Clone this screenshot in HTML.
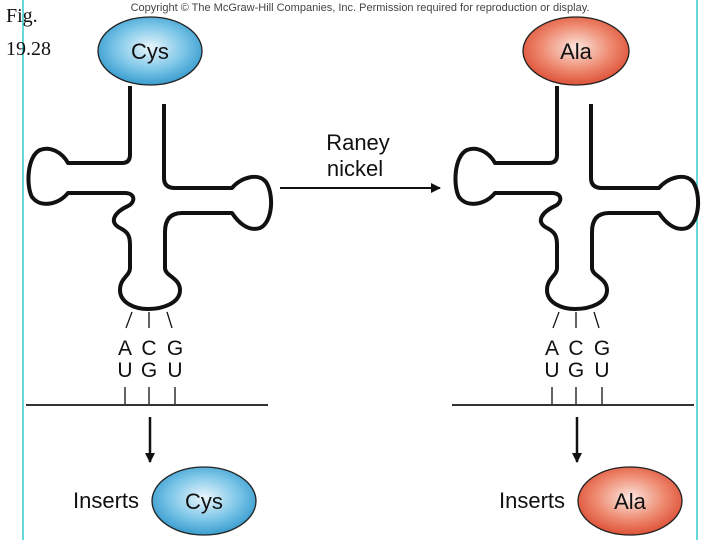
<!DOCTYPE html>
<html><head><style>body{margin:0;background:#fff}svg{display:block}</style></head><body>
<svg width="720" height="540" viewBox="0 0 720 540" xmlns="http://www.w3.org/2000/svg">
<defs>
<radialGradient id="b" cx="0.5" cy="0.45" r="0.6"><stop offset="0" stop-color="#eaf6fc"/><stop offset="0.55" stop-color="#7cc6e8"/><stop offset="1" stop-color="#2b93c8"/></radialGradient>
<radialGradient id="r" cx="0.5" cy="0.45" r="0.6"><stop offset="0" stop-color="#fbe6df"/><stop offset="0.55" stop-color="#ee8a70"/><stop offset="1" stop-color="#d9452b"/></radialGradient>
<marker id="ah" markerWidth="10" markerHeight="10" refX="9" refY="5" orient="auto" markerUnits="userSpaceOnUse"><path d="M0,0 L10,5 L0,10 Z" fill="#111"/></marker>
<g id="t">
<path d="M130,86 V155 Q130,163 122,163 H68 C62,152 50,146 40,150 C27,156 26,186 32,197 C40,208 58,205 68,193 H125 C135,193 136,202 128,206 C115,212 108,222 120,228 C128,232 130,236 130,245 V268 C130,276 120,278 120,290 C120,303 135,309 148,309 C163,309 180,303 180,290 C180,278 165,276 165,268 V232 Q165,213 182,213 H232 C238,222 248,232 260,228 C273,222 274,194 266,182 C258,172 240,178 232,188 H175 Q164,188 164,178 V104" fill="none" stroke="#111" stroke-width="4" stroke-linejoin="round"/>
<g stroke="#111" stroke-width="1.3" fill="none"><path d="M132,312 L126,328"/><path d="M149,312 V328"/><path d="M167,312 L172,328"/>
<path d="M125,387 V405"/><path d="M149,387 V405"/><path d="M175,387 V405"/></g>
<g font-family="Liberation Sans, sans-serif" font-size="21" fill="#111" text-anchor="middle"><text x="125" y="355">A</text><text x="149" y="355">C</text><text x="175" y="355">G</text><text x="125" y="377">U</text><text x="149" y="377">G</text><text x="175" y="377">U</text></g>
<line x1="150" y1="417" x2="150" y2="462" stroke="#111" stroke-width="2.5" marker-end="url(#ah)"/>
</g>
</defs>
<line x1="23" y1="0" x2="23" y2="540" stroke="#3cc" stroke-width="1.5"/>
<line x1="697" y1="0" x2="697" y2="540" stroke="#3cc" stroke-width="1.5"/>
<text x="360" y="11" font-family="Liberation Sans, sans-serif" font-size="11" fill="#444" text-anchor="middle">Copyright © The McGraw-Hill Companies, Inc. Permission required for reproduction or display.</text>
<text x="6" y="22" font-family="Liberation Serif, serif" font-size="20" fill="#111">Fig.</text>
<text x="6" y="55" font-family="Liberation Serif, serif" font-size="20" fill="#111">19.28</text>
<use href="#t"/>
<use href="#t" transform="translate(427,0)"/>
<line x1="26" y1="405" x2="268" y2="405" stroke="#333" stroke-width="2"/>
<line x1="452" y1="405" x2="694" y2="405" stroke="#333" stroke-width="2"/>
<ellipse cx="150" cy="51" rx="52" ry="34" fill="url(#b)" stroke="#222" stroke-width="1.3"/>
<ellipse cx="576" cy="51" rx="53" ry="34" fill="url(#r)" stroke="#222" stroke-width="1.3"/>
<ellipse cx="204" cy="501" rx="52" ry="34" fill="url(#b)" stroke="#222" stroke-width="1.3"/>
<ellipse cx="630" cy="501" rx="52" ry="34" fill="url(#r)" stroke="#222" stroke-width="1.3"/>
<g font-family="Liberation Sans, sans-serif" font-size="22" fill="#111" text-anchor="middle">
<text x="150" y="59">Cys</text><text x="576" y="59">Ala</text>
<text x="204" y="509">Cys</text><text x="630" y="509">Ala</text>
<text x="106" y="508">Inserts</text><text x="532" y="508">Inserts</text>
<text x="358" y="150">Raney</text><text x="355" y="176">nickel</text></g>
<line x1="280" y1="188" x2="440" y2="188" stroke="#111" stroke-width="2" marker-end="url(#ah)"/>
</svg>
</body></html>
